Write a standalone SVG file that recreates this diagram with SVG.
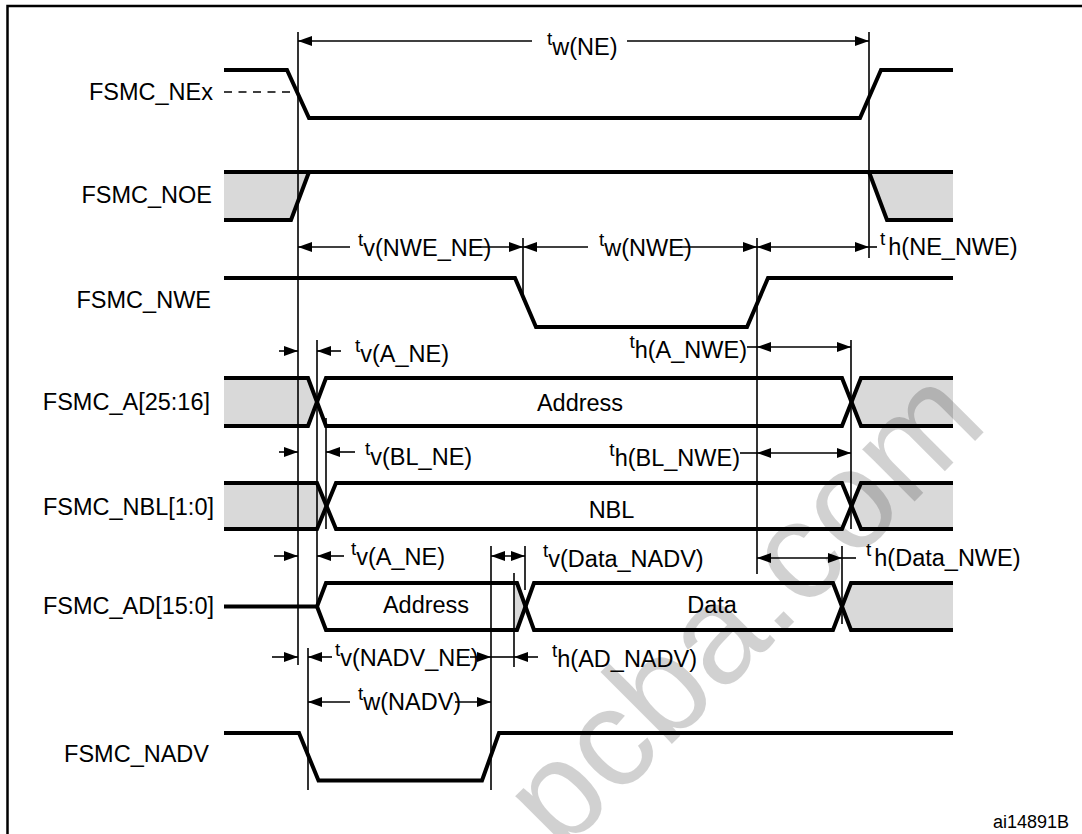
<svg xmlns="http://www.w3.org/2000/svg" width="1082" height="834" viewBox="0 0 1082 834">
<style>
.sig{fill:none;stroke:#000;stroke-width:4;stroke-linejoin:miter}
.gray{fill:#d9d9d9;stroke:none}
.ref{stroke:#000;stroke-width:1.6;fill:none}
.dim{stroke:#000;stroke-width:1.6;fill:none}
.lbl{font-family:"Liberation Sans",Arial,sans-serif;font-size:23.5px;fill:#000}
.tm{font-family:"Liberation Sans",Arial,sans-serif;font-size:23.5px;fill:#000}
.ts{font-size:19px}
</style>
<defs>
<marker id="ah" markerUnits="userSpaceOnUse" markerWidth="15" markerHeight="11" refX="14" refY="5" orient="auto-start-reverse">
<path d="M0,0 L14,5 L0,10 z" fill="#000"/>
</marker>
</defs>
<rect x="0" y="0" width="1082" height="834" fill="#fff"/>
<rect x="7.5" y="6" width="1100" height="900" fill="none" stroke="#000" stroke-width="2.5"/>

<g id="fills">
<polygon class="gray" points="224,172 309,172 291,220 224,220"/>
<polygon class="gray" points="869,172 953,172 953,220 887,220"/>
<polygon class="gray" points="224,378 308,378 317,402 308,426 224,426"/>
<polygon class="gray" points="851.5,402 861,378 953,378 953,426 861,426"/>
<polygon class="gray" points="224,483 317,483 326.5,506 317,529 224,529"/>
<polygon class="gray" points="851.5,506 861,483 953,483 953,529 861,529"/>
<polygon class="gray" points="514,583 517,583 525.5,606.5 517,630 514,630"/>
<polygon class="gray" points="842,606.5 851,583 953,583 953,630 851,630"/>
</g>

<text transform="translate(561,855) rotate(-45)" font-family="Liberation Sans,Arial,sans-serif" font-size="140" fill="#000" fill-opacity="0.18">pcba.com</text>

<g id="FSMC_NEx">
<text class="lbl" x="213" y="100" text-anchor="end">FSMC_NEx</text>
<line x1="224" y1="92" x2="291" y2="92" stroke="#000" stroke-width="1.6" stroke-dasharray="8,6.5"/>
<polyline class="sig" points="224,70 287,70 309,118 860,118 881,70 953,70"/>
</g>
<g id="FSMC_NOE">
<text class="lbl" x="212" y="203" text-anchor="end">FSMC_NOE</text>
<polyline class="sig" points="224,172 953,172"/>
<polyline class="sig" points="224,220 291,220 309,172"/>
<polyline class="sig" points="869,172 887,220 953,220"/>
</g>
<g id="FSMC_NWE">
<text class="lbl" x="211" y="308" text-anchor="end">FSMC_NWE</text>
<polyline class="sig" points="224,278 515,278 536,327 747,327 768,278 953,278"/>
</g>
<g id="FSMC_A">
<text class="lbl" x="210" y="410" text-anchor="end">FSMC_A[25:16]</text>
<polyline class="sig" points="224,378 308,378 326,426 842,426 861,378 953,378"/>
<polyline class="sig" points="224,426 308,426 326,378 842,378 861,426 953,426"/>
<text class="lbl" x="580" y="411" text-anchor="middle">Address</text>
</g>
<g id="FSMC_NBL">
<text class="lbl" x="214" y="515" text-anchor="end">FSMC_NBL[1:0]</text>
<polyline class="sig" points="224,483 317,483 336,529 842,529 861,483 953,483"/>
<polyline class="sig" points="224,529 317,529 336,483 842,483 861,529 953,529"/>
<text class="lbl" x="611.5" y="518" text-anchor="middle">NBL</text>
</g>
<g id="FSMC_AD">
<text class="lbl" x="214" y="614" text-anchor="end">FSMC_AD[15:0]</text>
<polyline class="sig" points="224,606.5 317,606.5 326,583 517,583 534,630 833,630 851,583 953,583"/>
<polyline class="sig" points="317,606.5 326,630 517,630 534,583 833,583 851,630 953,630"/>
<text class="lbl" x="426" y="613" text-anchor="middle">Address</text>
<text class="lbl" x="712" y="613" text-anchor="middle">Data</text>
</g>
<g id="FSMC_NADV">
<text class="lbl" x="209" y="762" text-anchor="end">FSMC_NADV</text>
<polyline class="sig" points="224,733 299,733 318.5,780.5 482,780.5 499,733 953,733"/>
</g>

<g id="connectors">
<line class="ref" x1="298" y1="32" x2="298" y2="665"/>
<line class="ref" x1="869" y1="32" x2="869" y2="258"/>
<line class="ref" x1="523" y1="238" x2="523" y2="300"/>
<line class="ref" x1="757" y1="238" x2="757" y2="574"/>
<line class="ref" x1="317" y1="340" x2="317" y2="606"/>
<line class="ref" x1="326" y1="418" x2="326" y2="529"/>
<line class="ref" x1="851" y1="340" x2="851" y2="529"/>
<line class="ref" x1="842" y1="546" x2="842" y2="624"/>
<line class="ref" x1="491" y1="546" x2="491" y2="790"/>
<line class="ref" x1="525" y1="546" x2="525" y2="590"/>
<line class="ref" x1="514" y1="573" x2="514" y2="667"/>
<line class="ref" x1="308" y1="648" x2="308" y2="790"/>

<line class="dim" x1="298" y1="41" x2="532" y2="41" marker-start="url(#ah)"/>
<line class="dim" x1="627" y1="41" x2="869" y2="41" marker-end="url(#ah)"/>

<line class="dim" x1="298" y1="247" x2="350" y2="247" marker-start="url(#ah)"/>
<line class="dim" x1="470" y1="247" x2="523" y2="247" marker-end="url(#ah)"/>
<line class="dim" x1="523" y1="247" x2="588" y2="247" marker-start="url(#ah)"/>
<line class="dim" x1="680" y1="247" x2="757" y2="247" marker-end="url(#ah)"/>
<line class="dim" x1="757" y1="247" x2="869" y2="247" marker-start="url(#ah)" marker-end="url(#ah)"/>
<line class="dim" x1="869" y1="247" x2="877" y2="247"/>

<line class="dim" x1="279" y1="351" x2="298" y2="351" marker-end="url(#ah)"/>
<line class="dim" x1="341" y1="351" x2="317" y2="351" marker-end="url(#ah)"/>
<line class="dim" x1="747" y1="347" x2="757" y2="347"/>
<line class="dim" x1="757" y1="347" x2="851" y2="347" marker-start="url(#ah)" marker-end="url(#ah)"/>

<line class="dim" x1="279" y1="452" x2="298" y2="452" marker-end="url(#ah)"/>
<line class="dim" x1="355" y1="452" x2="326" y2="452" marker-end="url(#ah)"/>
<line class="dim" x1="740" y1="453" x2="757" y2="453"/>
<line class="dim" x1="757" y1="453" x2="851" y2="453" marker-start="url(#ah)" marker-end="url(#ah)"/>

<line class="dim" x1="274" y1="556" x2="298" y2="556" marker-end="url(#ah)"/>
<line class="dim" x1="344" y1="556" x2="317" y2="556" marker-end="url(#ah)"/>
<line class="dim" x1="491" y1="556" x2="525" y2="556" marker-start="url(#ah)" marker-end="url(#ah)"/>
<line class="dim" x1="757" y1="558" x2="842" y2="558" marker-start="url(#ah)" marker-end="url(#ah)"/>
<line class="dim" x1="842" y1="558" x2="856" y2="558"/>

<line class="dim" x1="272" y1="657" x2="298" y2="657" marker-end="url(#ah)"/>
<line class="dim" x1="332" y1="657" x2="308" y2="657" marker-end="url(#ah)"/>
<line class="dim" x1="470" y1="657" x2="491" y2="657" marker-end="url(#ah)"/>
<line class="dim" x1="491" y1="657" x2="514" y2="657"/>
<line class="dim" x1="538" y1="657" x2="514" y2="657" marker-end="url(#ah)"/>

<line class="dim" x1="308" y1="702" x2="350" y2="702" marker-start="url(#ah)"/>
<line class="dim" x1="455" y1="702" x2="491" y2="702" marker-end="url(#ah)"/>
</g>

<g id="timing-labels">
<text class="tm" x="547" y="55"><tspan class="ts" dy="-10">t</tspan><tspan dy="10">w(NE)</tspan></text>
<text class="tm" x="358" y="256"><tspan class="ts" dy="-10">t</tspan><tspan dy="10">v(NWE_NE)</tspan></text>
<text class="tm" x="599" y="256"><tspan class="ts" dy="-10">t</tspan><tspan dy="10">w(NWE)</tspan></text>
<text class="tm" x="880" y="255"><tspan class="ts" dy="-10">t</tspan><tspan dx="3" dy="10">h(NE_NWE)</tspan></text>
<text class="tm" x="355" y="362"><tspan class="ts" dy="-10">t</tspan><tspan dy="10">v(A_NE)</tspan></text>
<text class="tm" x="747" y="358" text-anchor="end"><tspan class="ts" dy="-10">t</tspan><tspan dy="10">h(A_NWE)</tspan></text>
<text class="tm" x="365" y="465"><tspan class="ts" dy="-10">t</tspan><tspan dy="10">v(BL_NE)</tspan></text>
<text class="tm" x="740" y="466" text-anchor="end"><tspan class="ts" dy="-10">t</tspan><tspan dy="10">h(BL_NWE)</tspan></text>
<text class="tm" x="351" y="565"><tspan class="ts" dy="-10">t</tspan><tspan dy="10">v(A_NE)</tspan></text>
<text class="tm" x="543" y="567"><tspan class="ts" dy="-10">t</tspan><tspan dy="10">v(Data_NADV)</tspan></text>
<text class="tm" x="866" y="566"><tspan class="ts" dy="-10">t</tspan><tspan dx="3" dy="10">h(Data_NWE)</tspan></text>
<text class="tm" x="335" y="666"><tspan class="ts" dy="-10">t</tspan><tspan dy="10">v(NADV_NE)</tspan></text>
<text class="tm" x="552" y="667"><tspan class="ts" dy="-10">t</tspan><tspan dy="10">h(AD_NADV)</tspan></text>
<text class="tm" x="358" y="710"><tspan class="ts" dy="-10">t</tspan><tspan dy="10">w(NADV)</tspan></text>
</g>

<text x="993" y="828" font-family="Liberation Sans,Arial,sans-serif" font-size="18" fill="#000">ai14891B</text>
</svg>
